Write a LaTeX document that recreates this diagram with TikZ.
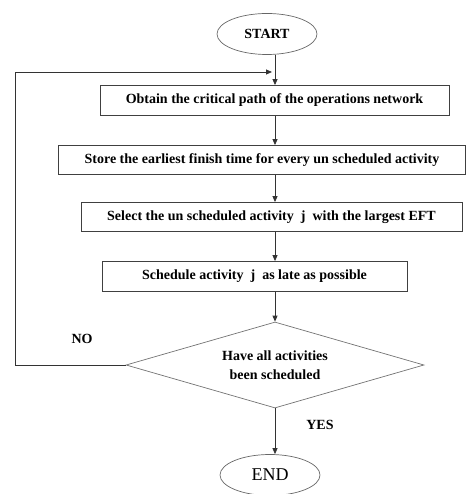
\documentclass[tikz,border=0pt]{standalone}
\usepackage{fontspec}
\setmainfont{Liberation Serif}
\usepackage{tikz}
\usetikzlibrary{shapes.geometric, arrows.meta, calc}
\tikzset{
    stepbox/.style={rectangle, minimum height=30pt, inner sep=2pt,
        text centered, draw=black!75, line width=0.8pt, font=\bfseries\fontsize{14}{16}\selectfont},
    termbox/.style={ellipse, minimum width=100pt, minimum height=41pt, inner sep=0pt,
        text centered, draw=black!60, line width=0.7pt},
    decisionbox/.style={diamond, aspect=3.5, minimum width=298pt, minimum height=86pt, inner sep=0pt,
        align=center, draw=black!55, line width=0.7pt, font=\bfseries\fontsize{14}{19}\selectfont},
    flowarrow/.style={-{Triangle[length=6pt, width=5pt]}, line width=0.8pt, black!80},
    answer/.style={font=\bfseries\fontsize{14}{16}\selectfont},
}

\begin{document}
\begin{tikzpicture}[x=1pt, y=1pt]
    \useasboundingbox (0,0) rectangle (467,-494);
    % terminals and steps
    \node[termbox, font=\bfseries\fontsize{14}{16}\selectfont] (start) at (267,-34) {START};
    \node[stepbox, minimum width=349pt] (critical) at (274.5,-100.5)
        {Obtain the critical path of the operations network};
    \node[stepbox, minimum width=407pt, minimum height=29pt] (store) at (262,-160)
        {Store the earliest finish time for every un scheduled activity};
    \node[stepbox, minimum width=381pt, minimum height=29pt] (select) at (271.5,-217)
        {Select the un scheduled activity \ j \ with the largest EFT};
    \node[stepbox, minimum width=305pt] (late) at (254.5,-276.5)
        {Schedule activity \ j \ as late as possible};
    \node[decisionbox] (check) at (275,-365) {Have all activities\\been scheduled};
    \node[termbox, font=\fontsize{18}{20}\selectfont] (end) at (270,-475) {END};

    \node[answer] (no) at (82,-339) {NO};
    \node[answer] (yes) at (320,-425) {YES};

    \coordinate (corner) at (15,-72);
    \coordinate (merge) at (272,-72);

    \draw[flowarrow] (start.south -| check) -- (critical.north -| check);
    \draw[flowarrow] (critical.south -| check) -- (store.north -| check);
    \draw[flowarrow] (store.south -| check) -- (select.north -| check);
    \draw[flowarrow] (select.south -| check) -- (late.north -| check);
    \draw[flowarrow] (late.south -| check) -- (check.north);
    \draw[flowarrow] (check.south) -- (end.north -| check);
    % back to the top when not done
    \draw[flowarrow] (check.west) -| (corner) -- (merge);
\end{tikzpicture}
\end{document}
